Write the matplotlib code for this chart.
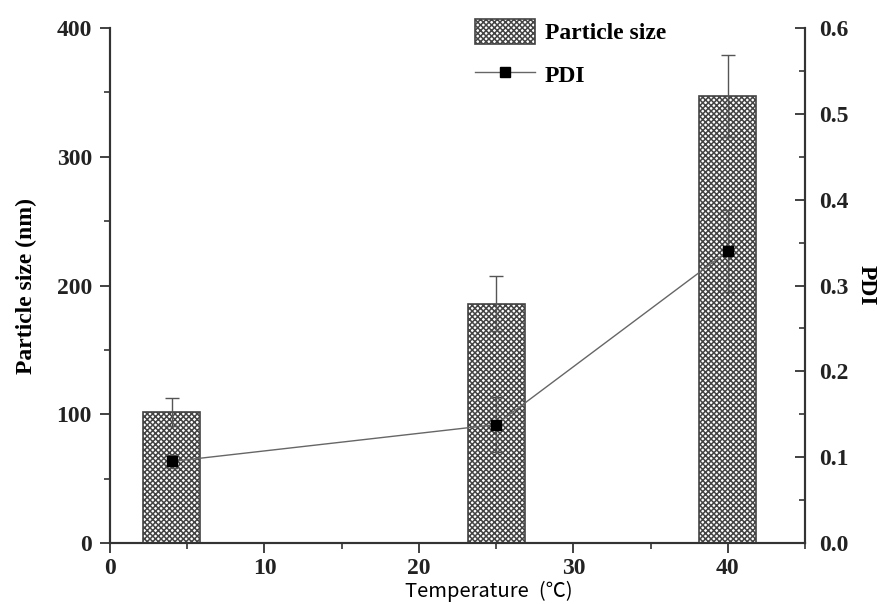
import matplotlib
matplotlib.use("Agg")
import matplotlib.pyplot as plt
from matplotlib.ticker import MultipleLocator
import matplotlib as mpl

temperature = [4, 25, 40]
particle_size = [102, 186, 347]
particle_err = [11, 21, 32]
pdi = [0.095, 0.138, 0.340]
pdi_err = [0.008, 0.032, 0.048]

left_ticks = [0, 100, 200, 300, 400]
right_ticks = [0.0, 0.1, 0.2, 0.3, 0.4, 0.5, 0.6]
x_ticks = [0, 10, 20, 30, 40]

mpl.rcParams['hatch.color'] = '#6f6f6f'
mpl.rcParams['hatch.linewidth'] = 1.1
serif = ['Liberation Serif', 'DejaVu Serif']

fig = plt.figure(figsize=(8.81, 6.04), dpi=100)
ax = fig.add_axes([0.1249, 0.101, 0.7888, 0.8526])
ax2 = ax.twinx()

bars = ax.bar(temperature, particle_size, width=3.7, facecolor='white',
              edgecolor='#444444', linewidth=1.2, hatch='xxxxxx',
              label='Particle size', zorder=1)
ax.errorbar(temperature, particle_size, yerr=particle_err, fmt='none',
            ecolor='#555555', elinewidth=1.0, capsize=5, capthick=1.0, zorder=2)

ax2.errorbar(temperature, pdi, yerr=pdi_err, fmt='none', ecolor='#555555',
             elinewidth=1.0, capsize=4, capthick=1.0, zorder=3)
line, = ax2.plot(temperature, pdi, color='#666666', linewidth=1.0, marker='s',
                 markersize=7, markerfacecolor='black', markeredgecolor='black',
                 label='PDI', zorder=4)

ax.set_xlim(0, 45)
ax.set_ylim(0, 400)
ax2.set_ylim(0, 0.6)
ax.set_xticks(x_ticks)
ax.set_yticks(left_ticks)
ax2.set_yticks(right_ticks)
ax.xaxis.set_minor_locator(MultipleLocator(5))
ax.yaxis.set_minor_locator(MultipleLocator(50))
ax2.yaxis.set_minor_locator(MultipleLocator(0.05))

for a in (ax, ax2):
    a.spines['top'].set_visible(False)
    for s in a.spines.values():
        s.set_linewidth(1.5)
        s.set_color('#333333')

ax.tick_params(axis='both', which='major', direction='out', length=7, width=1.3,
               colors='#333333', pad=6)
ax.tick_params(axis='x', which='major', pad=4)
ax.tick_params(axis='both', which='minor', direction='out', length=4, width=1.2,
               colors='#333333')
ax2.tick_params(axis='y', which='major', direction='in', length=7, width=1.3,
                colors='#333333', pad=10)
ax2.tick_params(axis='y', which='minor', direction='in', length=4, width=1.2,
                colors='#333333')

ax.set_yticklabels([str(v) for v in left_ticks], family=serif, fontweight='bold', fontsize=17, color='#222222')
ax.set_xticklabels([str(v) for v in x_ticks], family=serif, fontweight='bold', fontsize=17, color='#222222')
ax2.set_yticklabels([f"{v:.1f}" for v in right_ticks], family=serif, fontweight='bold', fontsize=17, color='#222222')

ax.set_ylabel('Particle size (nm)', family=serif, fontweight='bold', fontsize=17, labelpad=14)
ax2.set_ylabel('PDI', family=serif, fontweight='bold', fontsize=17, rotation=-90, labelpad=20)
ax.set_xlabel('Temperature\u2002(℃)', family=['Noto Sans CJK SC', 'DejaVu Sans'], fontsize=14.5)
ax.xaxis.set_label_coords(0.545, -0.074)

leg = ax.legend([bars, line], ['Particle size', 'PDI'], loc='upper left',
                bbox_to_anchor=(0.525, 1.018), frameon=False, borderpad=0.0,
                borderaxespad=0.0,
                prop={'family': serif, 'weight': 'bold', 'size': 17},
                handlelength=2.55, handleheight=1.25, labelspacing=0.75, handletextpad=0.4)

fig.savefig('out.png', dpi=100, facecolor='white')
